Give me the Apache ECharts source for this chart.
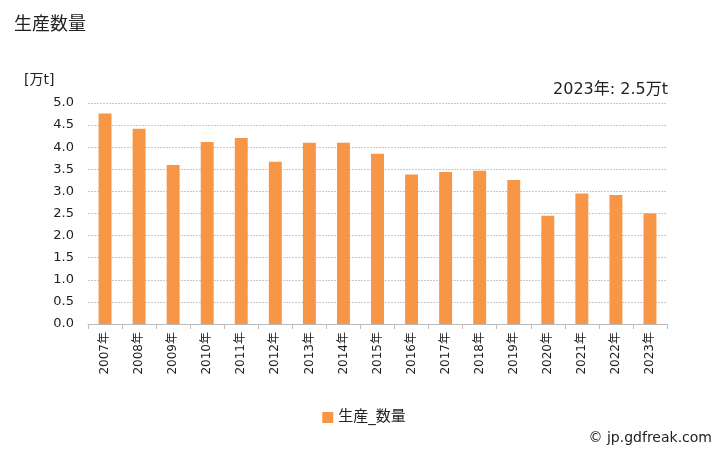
<!DOCTYPE html>
<html><head><meta charset="utf-8">
<script src="https://cdn.jsdelivr.net/npm/echarts@6/dist/echarts.min.js"></script>
<style>html,body{margin:0;padding:0;background:#fff}#c{width:728px;height:450px}</style>
</head><body><div id="c"></div>
<script>
const categories = ["2007年","2008年","2009年","2010年","2011年","2012年","2013年","2014年","2015年","2016年","2017年","2018年","2019年","2020年","2021年","2022年","2023年"];
const values = [4.76,4.42,3.60,4.12,4.21,3.67,4.10,4.10,3.85,3.38,3.44,3.47,3.26,2.45,2.95,2.92,2.50];
const yTicks = [0,0.5,1,1.5,2,2.5,3,3.5,4,4.5,5];
const seriesName = "生産_数量";
const FONT = "DejaVu Sans, Noto Sans CJK JP, sans-serif";
const chart = echarts.init(document.getElementById('c'), null, {renderer:'canvas'});
chart.setOption({
  animation:false,
  backgroundColor:'#fff',
  textStyle:{fontFamily:FONT},
  title:[
    {text:'生産数量', left:9, top:11, textStyle:{fontSize:18, fontWeight:'normal', color:'#222', fontFamily:FONT}},
    {text:'[万t]', left:19, top:68, textStyle:{fontSize:14, fontWeight:'normal', color:'#222', fontFamily:FONT}},
    {text:'2023年: 2.5万t', right:55, top:77, textStyle:{fontSize:16, fontWeight:'normal', color:'#222', fontFamily:FONT}},
    {text:'© jp.gdfreak.com', right:11, top:426, textStyle:{fontSize:14, fontWeight:'normal', color:'#222', fontFamily:FONT}}
  ],
  legend:{data:[seriesName], left:'center', top:405, itemWidth:11, itemHeight:11, icon:'rect', itemGap:6,
    textStyle:{fontSize:15, color:'#222', fontFamily:FONT}},
  grid:{left:88, right:61, top:103, bottom:126},
  xAxis:{type:'category', data:categories, boundaryGap:true,
    axisLine:{lineStyle:{color:'#bbb'}},
    axisTick:{show:true, length:5, lineStyle:{color:'#bbb'}},
    axisLabel:{rotate:90, fontSize:12, color:'#222', margin:8, fontFamily:FONT}},
  yAxis:{type:'value', min:yTicks[0], max:yTicks[yTicks.length-1], interval:0.5,
    axisLine:{show:false}, axisTick:{show:false},
    axisLabel:{fontSize:13, color:'#222', margin:14, formatter:v=>v.toFixed(1), fontFamily:FONT},
    splitLine:{lineStyle:{color:'#c8c8c8', type:[2,1]}}},
  series:[{name:seriesName, type:'bar', data:values, barWidth:'38%', itemStyle:{color:'#F79646'}}]
});
</script></body></html>
